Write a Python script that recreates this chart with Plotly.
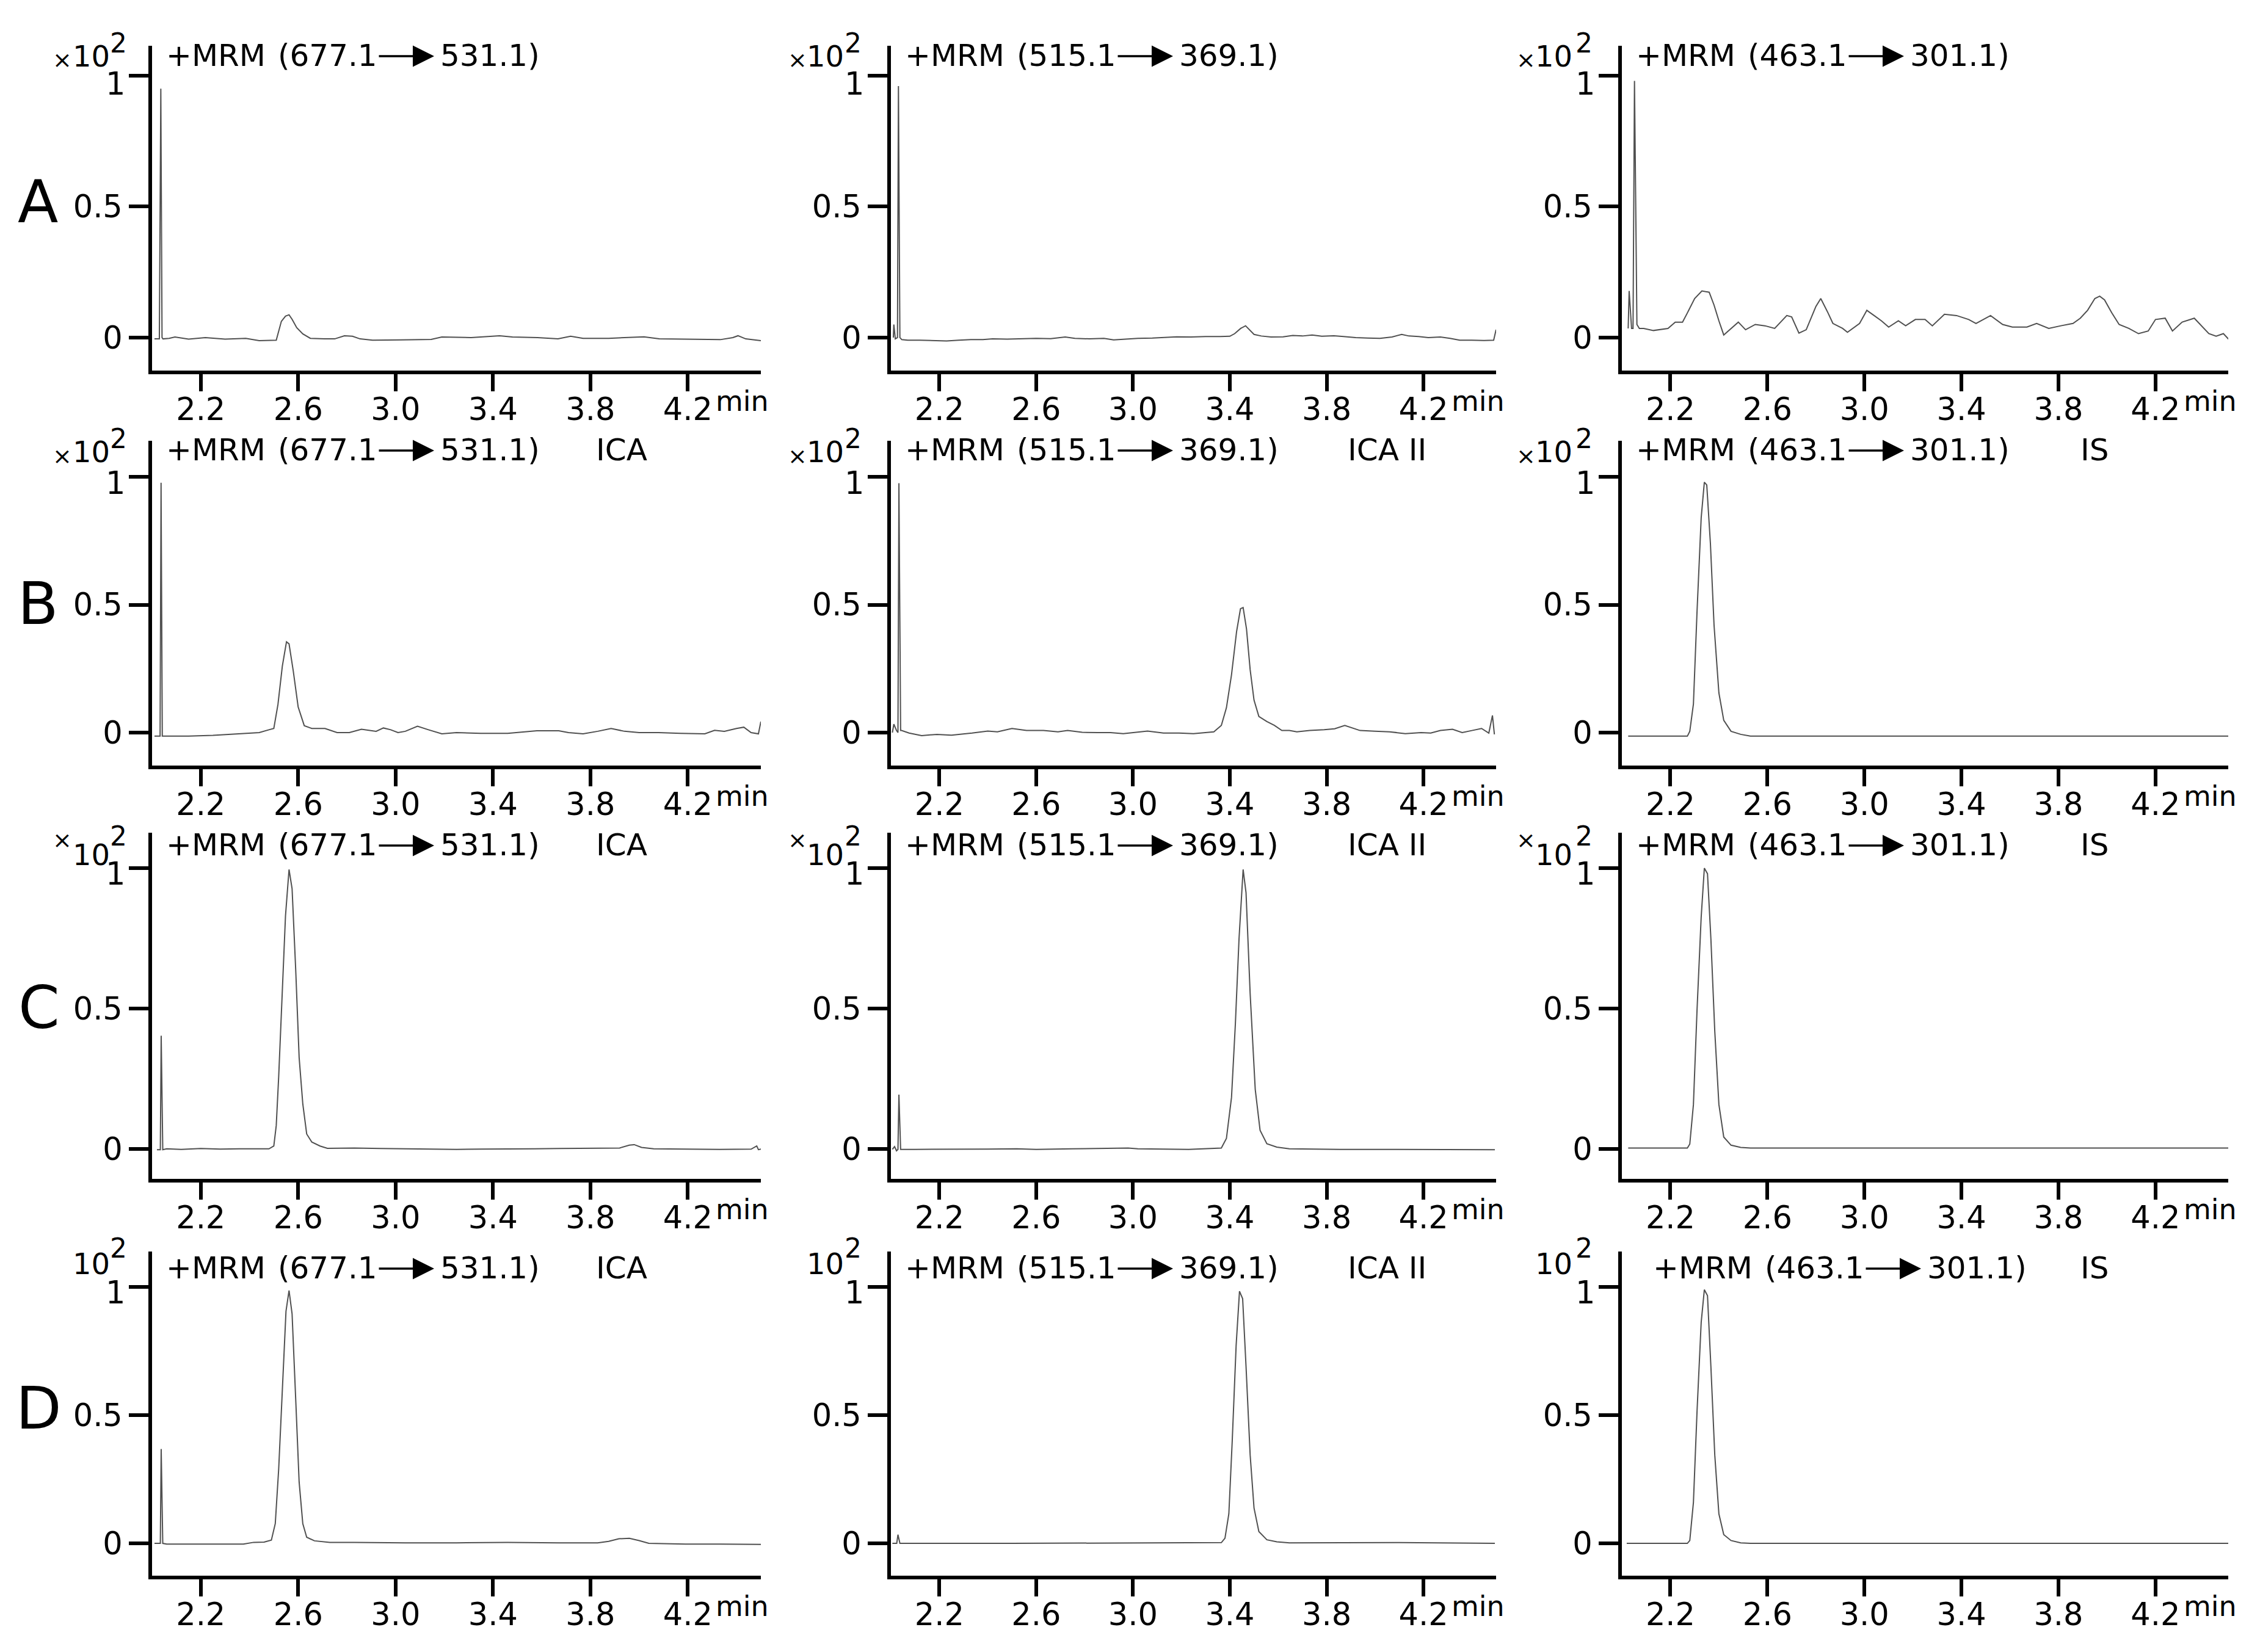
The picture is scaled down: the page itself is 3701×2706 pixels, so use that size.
import plotly.graph_objects as go

FONT = "DejaVu Sans"
W, H = 3701, 2706

# ---------------- data (time in min, intensity in x10^2 counts) ----------------
A1_t = [2.010, 2.030, 2.036, 2.041, 2.045, 2.070, 2.094, 2.150, 2.219, 2.300, 2.385, 2.440, 2.510,
        2.517, 2.531, 2.548, 2.5625, 2.575, 2.594, 2.619, 2.650, 2.708, 2.750, 2.790, 2.823, 2.854,
        2.906, 3.020, 3.146, 3.190, 3.310, 3.427, 3.480, 3.583, 3.667, 3.719, 3.770, 3.875, 3.958,
        4.020, 4.083, 4.190, 4.333, 4.385, 4.406, 4.438, 4.500]
A1_y = [-0.005, -0.005, 0.950, 0.000, -0.005, -0.003, 0.002, -0.006, 0.000, -0.006, -0.003, -0.012, -0.010,
        0.014, 0.062, 0.082, 0.087, 0.070, 0.038, 0.014, -0.003, -0.005, -0.005, 0.007, 0.005, -0.005,
        -0.010, -0.009, -0.007, 0.002, 0.000, 0.007, 0.002, 0.000, -0.005, 0.005, -0.003, -0.003, 0.000,
        0.003, -0.005, -0.007, -0.008, 0.000, 0.007, -0.005, -0.012]

A2_t = [2.010, 2.012, 2.018, 2.027, 2.031, 2.037, 2.045, 2.070, 2.120, 2.180, 2.230, 2.280, 2.330, 2.380,
        2.420, 2.480, 2.540, 2.600, 2.660, 2.720, 2.760, 2.820, 2.880, 2.920, 2.970, 3.020, 3.080, 3.130,
        3.180, 3.240, 3.300, 3.360, 3.400, 3.420, 3.445, 3.465, 3.480, 3.500, 3.530, 3.570, 3.620, 3.660,
        3.700, 3.740, 3.780, 3.830, 3.870, 3.920, 3.970, 4.020, 4.070, 4.110, 4.140, 4.180, 4.220, 4.270,
        4.310, 4.350, 4.400, 4.450, 4.490, 4.500]
A2_y = [0.000, 0.050, -0.005, 0.000, 0.960, 0.000, -0.008, -0.010, -0.010, -0.012, -0.013, -0.010, -0.008,
        -0.008, -0.005, -0.006, -0.004, -0.003, -0.004, 0.002, -0.003, -0.005, -0.003, -0.009, -0.006,
        -0.003, -0.002, 0.001, 0.003, 0.002, 0.004, 0.004, 0.005, 0.015, 0.035, 0.045, 0.030, 0.012, 0.006,
        0.002, 0.003, 0.008, 0.006, 0.010, 0.005, 0.007, 0.004, 0.000, -0.002, -0.003, 0.002, 0.012, 0.006,
        0.004, 0.000, 0.002, -0.003, -0.010, -0.010, -0.011, -0.010, 0.030]

A3_t = [2.026, 2.030, 2.040, 2.046, 2.052, 2.062, 2.072, 2.090, 2.130, 2.190, 2.220, 2.250, 2.270, 2.300,
        2.330, 2.360, 2.380, 2.400, 2.420, 2.450, 2.480, 2.510, 2.550, 2.590, 2.630, 2.680, 2.700, 2.730,
        2.760, 2.800, 2.820, 2.850, 2.870, 2.910, 2.930, 2.980, 3.010, 3.040, 3.070, 3.100, 3.140, 3.170,
        3.210, 3.250, 3.280, 3.330, 3.380, 3.430, 3.460, 3.520, 3.570, 3.610, 3.670, 3.710, 3.760, 3.810,
        3.860, 3.890, 3.920, 3.950, 3.970, 3.990, 4.020, 4.050, 4.090, 4.130, 4.170, 4.200, 4.240, 4.270,
        4.310, 4.360, 4.390, 4.420, 4.450, 4.480, 4.505]
A3_y = [0.035, 0.178, 0.035, 0.035, 0.980, 0.050, 0.035, 0.035, 0.027, 0.035, 0.059, 0.059, 0.094, 0.149,
        0.178, 0.173, 0.124, 0.064, 0.010, 0.035, 0.059, 0.030, 0.050, 0.045, 0.035, 0.084, 0.079, 0.017,
        0.030, 0.119, 0.149, 0.094, 0.054, 0.035, 0.020, 0.054, 0.104, 0.084, 0.064, 0.040, 0.064, 0.045,
        0.069, 0.069, 0.045, 0.089, 0.084, 0.069, 0.054, 0.084, 0.050, 0.040, 0.040, 0.054, 0.035, 0.045,
        0.054, 0.074, 0.104, 0.149, 0.158, 0.144, 0.094, 0.050, 0.035, 0.015, 0.025, 0.069, 0.074, 0.025,
        0.059, 0.074, 0.045, 0.015, 0.005, 0.015, -0.010]

B1_t = [2.010, 2.033, 2.037, 2.042, 2.100, 2.150, 2.250, 2.350, 2.440, 2.480, 2.500, 2.517, 2.535, 2.552,
        2.5625, 2.580, 2.600, 2.625, 2.656, 2.710, 2.760, 2.810, 2.860, 2.920, 2.950, 2.980, 3.010, 3.040,
        3.090, 3.135, 3.190, 3.250, 3.350, 3.460, 3.560, 3.580, 3.670, 3.710, 3.770, 3.830, 3.885, 3.940,
        4.000, 4.080, 4.170, 4.270, 4.310, 4.350, 4.400, 4.430, 4.460, 4.490, 4.500]
B1_y = [-0.014, -0.014, 0.977, -0.014, -0.014, -0.014, -0.011, -0.005, 0.000, 0.011, 0.016, 0.110, 0.260,
        0.355, 0.347, 0.240, 0.100, 0.027, 0.016, 0.016, 0.000, 0.000, 0.013, 0.005, 0.018, 0.011, 0.000,
        0.005, 0.025, 0.011, -0.005, 0.000, -0.003, -0.003, 0.005, 0.007, 0.007, 0.000, -0.005, 0.005,
        0.016, 0.005, 0.000, 0.000, -0.003, -0.005, 0.009, 0.005, 0.016, 0.021, 0.000, -0.005, 0.043]

B2_t = [2.006, 2.012, 2.023, 2.029, 2.033, 2.040, 2.044, 2.075, 2.127, 2.190, 2.250, 2.335, 2.400, 2.440,
        2.500, 2.560, 2.630, 2.690, 2.730, 2.790, 2.855, 2.907, 2.960, 3.020, 3.060, 3.126, 3.190, 3.250,
        3.334, 3.365, 3.386, 3.407, 3.428, 3.444, 3.455, 3.469, 3.484, 3.500, 3.520, 3.553, 3.584, 3.615,
        3.646, 3.677, 3.730, 3.790, 3.833, 3.875, 3.938, 4.000, 4.060, 4.125, 4.190, 4.230, 4.270, 4.320,
        4.360, 4.400, 4.440, 4.470, 4.485, 4.493]
B2_y = [0.000, 0.033, 0.008, 0.000, 0.975, 0.008, 0.008, -0.002, -0.012, -0.007, -0.010, -0.002, 0.006,
        0.003, 0.016, 0.008, 0.008, 0.003, 0.008, 0.001, 0.000, 0.000, -0.004, 0.003, 0.006, -0.002, -0.002,
        -0.004, 0.003, 0.028, 0.097, 0.226, 0.395, 0.484, 0.489, 0.405, 0.246, 0.127, 0.063, 0.043, 0.028,
        0.008, 0.008, 0.003, 0.008, 0.011, 0.015, 0.028, 0.008, 0.005, 0.003, -0.004, 0.000, -0.002, 0.008,
        0.013, 0.000, 0.008, 0.016, -0.002, 0.067, -0.007]

B3_t = [2.026, 2.270, 2.280, 2.295, 2.310, 2.327, 2.340, 2.350, 2.365, 2.380, 2.400, 2.420, 2.450, 2.490,
        2.530, 4.510]
B3_y = [-0.014, -0.014, 0.005, 0.112, 0.476, 0.840, 0.979, 0.968, 0.740, 0.420, 0.155, 0.048, 0.005,
        -0.007, -0.014, -0.014]

C1_t = [2.020, 2.034, 2.0375, 2.044, 2.060, 2.120, 2.200, 2.280, 2.360, 2.440, 2.480, 2.500, 2.510, 2.520,
        2.535, 2.548, 2.5625, 2.575, 2.590, 2.604, 2.619, 2.635, 2.656, 2.690, 2.720, 2.830, 2.940, 3.040,
        3.150, 3.250, 3.350, 3.460, 3.570, 3.670, 3.830, 3.920, 3.960, 3.980, 4.010, 4.060, 4.190, 4.330,
        4.460, 4.483, 4.490, 4.506]
C1_y = [-0.003, -0.003, 0.403, -0.003, 0.000, -0.002, 0.001, -0.001, 0.000, 0.001, 0.000, 0.010, 0.083,
        0.257, 0.549, 0.830, 0.995, 0.927, 0.636, 0.325, 0.160, 0.053, 0.024, 0.010, 0.002, 0.003, 0.001,
        0.000, -0.001, -0.002, -0.001, -0.001, 0.000, 0.001, 0.002, 0.003, 0.013, 0.015, 0.005, 0.000,
        -0.001, -0.002, -0.001, 0.010, -0.003, 0.000]

C2_t = [2.006, 2.015, 2.023, 2.029, 2.033, 2.040, 2.100, 2.250, 2.400, 2.520, 2.600, 2.750, 2.900, 2.980,
        3.020, 3.230, 3.365, 3.386, 3.407, 3.423, 3.438, 3.455, 3.467, 3.484, 3.505, 3.525, 3.553, 3.594,
        3.646, 3.854, 4.060, 4.270, 4.495]
C2_y = [-0.002, 0.008, -0.007, -0.002, 0.193, -0.002, -0.002, -0.002, -0.001, 0.000, -0.002, 0.000, 0.002,
        0.003, 0.000, -0.002, 0.003, 0.037, 0.183, 0.446, 0.747, 0.995, 0.912, 0.553, 0.212, 0.066, 0.018,
        0.006, 0.000, -0.002, -0.002, -0.003, -0.003]

C3_t = [2.026, 2.270, 2.280, 2.295, 2.310, 2.327, 2.340, 2.353, 2.367, 2.383, 2.400, 2.420, 2.450, 2.490,
        2.530, 4.510]
C3_y = [0.003, 0.003, 0.017, 0.158, 0.497, 0.826, 1.000, 0.980, 0.748, 0.419, 0.158, 0.042, 0.013, 0.005,
        0.003, 0.003]

D1_t = [2.010, 2.034, 2.0375, 2.044, 2.060, 2.200, 2.375, 2.417, 2.460, 2.490, 2.506, 2.520, 2.535, 2.550,
        2.5625, 2.575, 2.590, 2.604, 2.619, 2.635, 2.667, 2.730, 2.830, 3.040, 3.250, 3.460, 3.670, 3.830,
        3.875, 3.917, 3.960, 4.000, 4.040, 4.190, 4.330, 4.506]
D1_y = [0.000, 0.000, 0.368, 0.000, -0.003, -0.003, -0.003, 0.004, 0.005, 0.013, 0.077, 0.290, 0.615,
        0.905, 0.986, 0.895, 0.560, 0.239, 0.077, 0.024, 0.010, 0.004, 0.004, 0.002, 0.002, 0.004, 0.002,
        0.002, 0.008, 0.018, 0.020, 0.011, 0.000, -0.003, -0.003, -0.004]

D2_t = [2.006, 2.024, 2.029, 2.037, 2.500, 3.147, 3.365, 3.380, 3.396, 3.410, 3.426, 3.440, 3.453, 3.467,
        3.484, 3.500, 3.520, 3.553, 3.594, 3.646, 3.900, 4.100, 4.495]
D2_y = [0.000, 0.000, 0.034, 0.000, 0.000, 0.002, 0.003, 0.020, 0.115, 0.400, 0.770, 0.983, 0.954, 0.690,
        0.345, 0.138, 0.046, 0.014, 0.006, 0.002, 0.002, 0.003, 0.000]

D3_t = [2.020, 2.270, 2.280, 2.295, 2.310, 2.327, 2.340, 2.353, 2.367, 2.383, 2.400, 2.420, 2.450, 2.490,
        2.530, 4.510]
D3_y = [0.000, 0.000, 0.011, 0.160, 0.517, 0.862, 0.989, 0.966, 0.690, 0.345, 0.115, 0.034, 0.011, 0.002,
        0.000, 0.000]

row_labels = ["A", "B", "C", "D"]
transitions = [("(677.1", "531.1)"), ("(515.1", "369.1)"), ("(463.1", "301.1)")]
compounds = ["ICA", "ICA II", "IS"]
x_tick_vals = [2.2, 2.6, 3.0, 3.4, 3.8, 4.2]
x_tick_text = ["2.2", "2.6", "3.0", "3.4", "3.8", "4.2"]
y_tick_vals = [0, 0.5, 1]
y_tick_text = ["0", "0.5", ""]   # the "1" label is placed separately (it sits just below its tick)
y_top_label = "1"

series = [
    [(A1_t, A1_y), (A2_t, A2_y), (A3_t, A3_y)],
    [(B1_t, B1_y), (B2_t, B2_y), (B3_t, B3_y)],
    [(C1_t, C1_y), (C2_t, C2_y), (C3_t, C3_y)],
    [(D1_t, D1_y), (D2_t, D2_y), (D3_t, D3_y)],
]

# ---------------- layout geometry (pixels) ----------------
COL_X = [(249, 1246), (1459, 2450), (2656, 3649)]
ROW_Y = [(75, 607), (722, 1254), (1364, 1931), (2050, 2581)]
Y_RANGE = [(-0.126, 1.114), (-0.129, 1.141), (-0.107, 1.126), (-0.126, 1.138)]
X_RANGE = (2.0, 4.5)

LINE_COLOR = "#505050"
TICK_FONT = 51
HEAD_FONT = 50


def px_x(p):
    return p / W


def px_y(p):
    return 1 - p / H


def ann(x, y, text, size, xanchor="center", yanchor="middle"):
    return dict(x=px_x(x), y=px_y(y), xref="paper", yref="paper", text=text, showarrow=False,
                font=dict(family=FONT, size=size, color="black"),
                xanchor=xanchor, yanchor=yanchor)


fig = go.Figure()
layout = dict(width=W, height=H, margin=dict(l=0, r=0, t=0, b=0),
              paper_bgcolor="white", plot_bgcolor="white", showlegend=False)
annotations = []

ten_dx = [-100, -108, -112]
two_dx = [-55, -62, -62]
x_dx = [-147, -153, -157]
ten_dy = [17, 18, 36, 20]
two_dy = [-5, -4, 6, -6]
x_dy = [23, 25, 12, None]
head_dy = [16, 15, 20, 27]
one_dy = [14, 10, 10, 10]
label_cx = [769, 812, 774]

idx = 0
for r in range(4):
    for c in range(3):
        idx += 1
        sfx = "" if idx == 1 else str(idx)
        t, v = series[r][c]
        fig.add_trace(go.Scatter(x=t, y=v, mode="lines", xaxis="x" + sfx, yaxis="y" + sfx,
                                 line=dict(color=LINE_COLOR, width=2), hoverinfo="skip"))
        x0, x1 = COL_X[c]
        top, bot = ROW_Y[r]
        y_lo, y_hi = Y_RANGE[r]
        layout["xaxis" + sfx] = dict(
            domain=[px_x(x0), px_x(x1)], range=list(X_RANGE), anchor="y" + sfx,
            tickmode="array", tickvals=x_tick_vals, ticktext=x_tick_text,
            ticks="outside", ticklen=28, tickwidth=6, tickcolor="black",
            ticklabelstandoff=-14,
            showline=True, linewidth=6, linecolor="black", showgrid=False, zeroline=False,
            tickfont=dict(family=FONT, size=TICK_FONT, color="black"), fixedrange=True)
        layout["yaxis" + sfx] = dict(
            domain=[px_y(bot), px_y(top)], range=[y_lo, y_hi], anchor="x" + sfx,
            tickmode="array", tickvals=y_tick_vals, ticktext=y_tick_text,
            ticks="outside", ticklen=32, tickwidth=6, tickcolor="black",
            showline=True, linewidth=6, linecolor="black", showgrid=False, zeroline=False,
            tickfont=dict(family=FONT, size=TICK_FONT, color="black"), fixedrange=True)

        # "1" tick label, sitting just under its tick
        one_px = top + (y_hi - 1.0) / (y_hi - y_lo) * (bot - top)
        annotations.append(ann(x0 - 42, one_px + one_dy[r], y_top_label, TICK_FONT, xanchor="right"))

        # header: +MRM (a -> b)   compound
        hy = top + head_dy[r]
        sh = 28 if (r == 3 and c == 2) else 0
        pre, post = transitions[c]
        annotations.append(ann(x0 + 104 + sh, hy, "+MRM", HEAD_FONT))
        annotations.append(ann(x0 + 287 + sh, hy, pre, HEAD_FONT))
        annotations.append(dict(x=px_x(x0 + 462 + sh), y=px_y(hy + 1), xref="paper", yref="paper",
                                ax=-92, ay=0, text="", showarrow=True, arrowhead=2, arrowsize=2,
                                arrowwidth=3.5, arrowcolor="black", standoff=0))
        annotations.append(ann(x0 + 553 + sh, hy, post, HEAD_FONT))
        if r > 0:
            annotations.append(ann(x0 + label_cx[c], hy, compounds[c], HEAD_FONT))

        # scale factor x10^2
        annotations.append(ann(x0 + ten_dx[c], top + ten_dy[r], "10", 48))
        annotations.append(ann(x0 + two_dx[c], top + two_dy[r], "2", 44))
        if x_dy[r] is not None:
            annotations.append(ann(x0 + x_dx[c], top + x_dy[r], "×", 38))

        # "min" unit after last tick
        tick42 = x0 + (4.2 - X_RANGE[0]) / (X_RANGE[1] - X_RANGE[0]) * (x1 - x0)
        annotations.append(ann(tick42 + 44, bot + 50, "min", 46, xanchor="left"))

row_label_pos = [(62, 330), (62, 988), (64, 1650), (64, 2306)]
for r, lab in enumerate(row_labels):
    px, py = row_label_pos[r]
    annotations.append(ann(px, py, lab, 97))

layout["annotations"] = annotations
fig.update_layout(**layout)
fig.write_html("out.html",
               config={"displayModeBar": False, "staticPlot": True},
               post_script="document.body.style.margin='0';document.body.style.overflow='hidden';")
